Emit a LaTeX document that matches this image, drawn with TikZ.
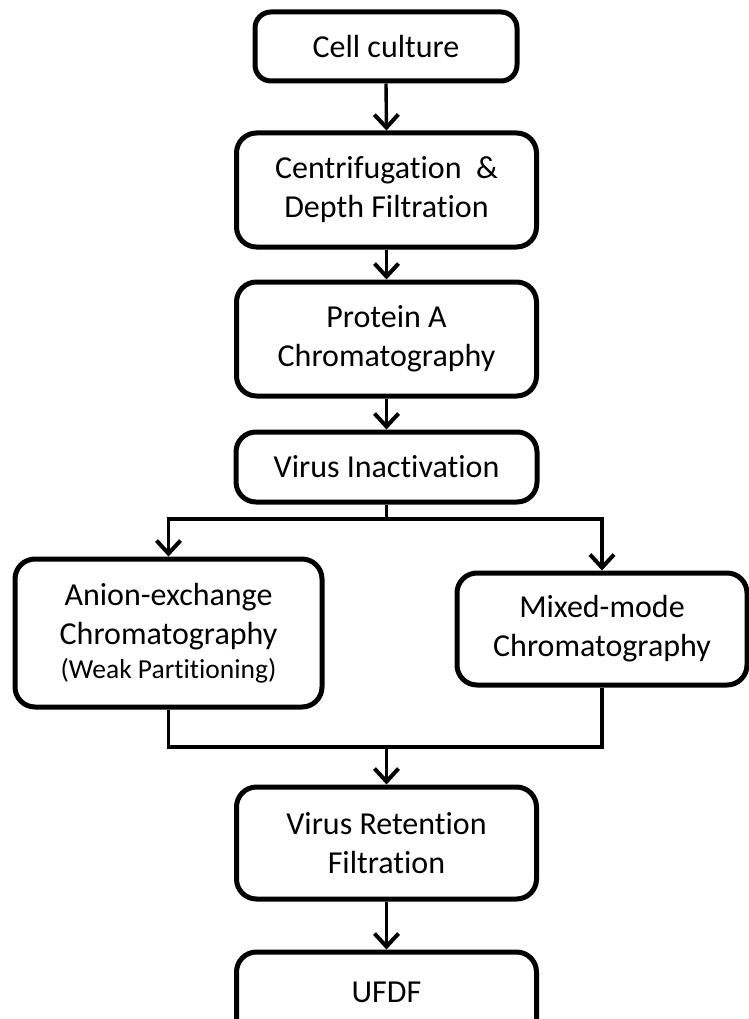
\documentclass[tikz,border=0pt]{standalone}
\usepackage{fontspec}
\setmainfont{Carlito}[Ligatures=NoCommon]
\usetikzlibrary{arrows.meta}

\tikzset{
  stage/.style={draw=black, line width=5pt, rounded corners=20pt, fill=white,
    align=center, inner sep=0pt, font=\fontsize{32}{39}\selectfont},
  link/.style={draw=black, line width=3.4pt},
  flow/.style={link, -{Straight Barb[length=13pt,width=24pt,line width=4pt]}}
}

\begin{document}
\begin{tikzpicture}[x=1pt, y=-1pt]
  \useasboundingbox (0,0) rectangle (748,1019);

  % main process column
  \node[stage, rounded corners=16pt, minimum width=262pt, minimum height=69pt]
    (cell) at (386,46.5) {Cell culture};
  \node[stage, minimum width=300pt, minimum height=114pt]
    (cent) at (386.5,190) {Centrifugation\ \ \&\\Depth Filtration};
  \node[stage, minimum width=300pt, minimum height=114pt]
    (prot) at (386.5,339) {Protein A\\Chromatography};
  \node[stage, minimum width=301pt, minimum height=70pt]
    (vinac) at (386.5,467) {Virus Inactivation};

  % parallel polishing steps
  \node[stage, minimum width=307pt, minimum height=148pt]
    (aex) at (168.5,633) {Anion-exchange\\Chromatography\\[-5pt]{\fontsize{27.5}{33}\selectfont(Weak Partitioning)}};
  \node[stage, minimum width=290pt, minimum height=112pt]
    (mm) at (602,629) {Mixed-mode\\Chromatography};

  % final steps
  \node[stage, minimum width=300pt, minimum height=112pt]
    (vr) at (386.5,843) {Virus Retention\\Filtration};
  \node[stage, minimum width=300pt, minimum height=90pt]
    (ufdf) at (386.5,997) {\raisebox{9pt}{UFDF}};

  % split and merge points
  \coordinate (split) at (386.5,519);
  \coordinate (merge) at (386.5,747);

  % connectors
  \draw[flow] (cell.south) -- (cent.north);
  \draw[flow] (cent.south) -- (prot.north);
  \draw[flow] (prot.south) -- (vinac.north);
  \draw[link] (vinac.south) -- (split);
  \draw[flow] (split) -| (aex.north);
  \draw[flow] (split) -| (mm.north);
  \draw[link] (aex.south) |- (merge) -| (mm.south);
  \draw[flow] (merge) -- (vr.north);
  \draw[flow] (vr.south) -- (ufdf.north);
\end{tikzpicture}
\end{document}
